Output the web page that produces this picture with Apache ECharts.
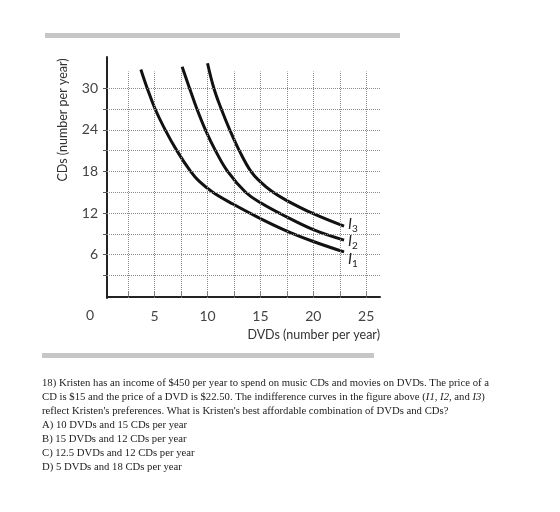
<!DOCTYPE html>
<html>
<head>
<meta charset="utf-8">
<script src="https://cdn.jsdelivr.net/npm/echarts@6/dist/echarts.min.js"></script>
<style>
html, body { margin: 0; padding: 0; background: #fff; }
#chart { width: 560px; height: 512px; }
</style>
</head>
<body>
<div id="chart"></div>
<script>
// indifference curves (DVDs, CDs)
const i1Dvd = [3.7, 4.3, 5.05, 6.0, 7.1, 8.4, 9.2, 10.5, 12.4, 15, 17.5, 20, 22.9];
const i1Cd  = [32.7, 30, 27, 24, 21, 18, 16.6, 15.0, 13.3, 11.2, 9.4, 7.9, 6.4];
const i2Dvd = [7.6, 8.3, 9.0, 9.8, 10.75, 11.9, 13.6, 15.1, 16.9, 20, 22.9];
const i2Cd  = [33.1, 30, 27, 24, 21, 18, 15, 13.4, 11.9, 9.6, 8.1];
const i3Dvd = [10.0, 10.6, 11.3, 12.1, 13.0, 14.1, 15, 16.1, 17.5, 20, 22.9];
const i3Cd  = [33.6, 30, 27, 24, 21, 18, 16.5, 15.1, 13.8, 11.9, 10.1];

// axis labels and grid
const dvdTicks = [5, 10, 15, 20, 25];
const cdTicks = [6, 12, 18, 24, 30];
const dvdGrid = [2.5, 5, 7.5, 10, 12.5, 15, 17.5, 20, 22.5, 25];
const cdGrid = [3, 6, 9, 12, 15, 18, 21, 24, 27, 30];

const questionLines = [
    "18) Kristen has an income of $450 per year to spend on music CDs and movies on DVDs. The price of a",
    "CD is $15 and the price of a DVD is $22.50. The indifference curves in the figure above ({it|I1}, {it|I2}, and {it|I3})",
    "reflect Kristen's preferences. What is Kristen's best affordable combination of DVDs and CDs?",
    "A) 10 DVDs and 15 CDs per year",
    "B) 15 DVDs and 12 CDs per year",
    "C) 12.5 DVDs and 12 CDs per year",
    "D) 5 DVDs and 18 CDs per year"
];

const X_MIN = 0.5, X_MAX = 26.3, Y_MIN = -0.25, Y_MAX = 34.5;
const sans = 'Lato';

function pairs(xs, ys) {
    return xs.map((x, k) => [x, ys[k]]);
}

function curve(name, xs, ys, sub, off) {
    return {
        name: name,
        type: 'line',
        z: 3,
        data: pairs(xs, ys),
        smooth: 0.4,
        showSymbol: false,
        silent: true,
        lineStyle: { color: '#111', width: 3 },
        endLabel: {
            show: true,
            distance: 4,
            offset: off,
            formatter: '{i|I}{s|' + sub + '}',
            rich: {
                i: { fontFamily: sans, fontStyle: 'italic', fontSize: 15, color: '#222' },
                s: { fontFamily: sans, fontSize: 10, color: '#222', padding: [9, 0, 0, 0] }
            }
        }
    };
}

// dotted grid drawn as mark lines
const gridLines = [];
cdGrid.forEach(y => gridLines.push([{ coord: [X_MIN, y] }, { coord: [X_MAX, y] }]));
dvdGrid.forEach(x => gridLines.push([{ coord: [x, Y_MIN] }, { coord: [x, 32.4] }]));

const chart = echarts.init(document.getElementById('chart'));
chart.setOption({
    animation: false,
    backgroundColor: '#fff',
    grid: { left: 107, right: 180, top: 57, bottom: 214 },
    xAxis: {
        type: 'value',
        min: X_MIN,
        max: X_MAX,
        splitLine: { show: false },
        axisLine: { lineStyle: { color: '#222', width: 2 } },
        axisTick: { show: true, inside: true, length: 5, customValues: dvdGrid, lineStyle: { color: '#777' } },
        axisLabel: { customValues: dvdTicks, margin: 11, fontFamily: sans, fontSize: 14, color: '#444' }
    },
    yAxis: {
        type: 'value',
        min: Y_MIN,
        max: Y_MAX,
        splitLine: { show: false },
        axisLine: { show: true, lineStyle: { color: '#222', width: 2 } },
        axisTick: { show: true, length: 4, customValues: cdGrid, lineStyle: { color: '#555' } },
        axisLabel: { customValues: cdTicks, margin: 9, fontFamily: sans, fontSize: 14, color: '#444' }
    },
    series: [
        {
            type: 'line',
            z: 1,
            data: [],
            silent: true,
            markLine: {
                silent: true,
                symbol: 'none',
                label: { show: false },
                lineStyle: { color: '#8a8a8a', width: 1, type: 'dotted' },
                data: gridLines
            }
        },
        curve('I1', i1Dvd, i1Cd, '1', [0, 7]),
        curve('I2', i2Dvd, i2Cd, '2', [0, 1]),
        curve('I3', i3Dvd, i3Cd, '3', [0, -2])
    ],
    graphic: [
        { type: 'rect', shape: { x: 45, y: 33, width: 355, height: 5 }, style: { fill: '#c6c6c6' } },
        { type: 'rect', shape: { x: 42, y: 353, width: 332, height: 5 }, style: { fill: '#c6c6c6' } },
        {
            type: 'text', x: 63, y: 120, rotation: Math.PI / 2,
            style: { text: 'CDs (number per year)', font: '12.5px Lato', fill: '#333', align: 'center', verticalAlign: 'middle' }
        },
        {
            type: 'text', x: 380, y: 335,
            style: { text: 'DVDs (number per year)', font: '12.5px Lato', fill: '#333', align: 'right', verticalAlign: 'middle' }
        },
        {
            type: 'text', x: 90, y: 315,
            style: { text: '0', font: '14px Lato', fill: '#444', align: 'center', verticalAlign: 'middle' }
        },
        {
            type: 'text', x: 42, y: 376,
            style: {
                text: questionLines.join('\n'),
                font: '10.7px "Liberation Serif"',
                fill: '#222',
                lineHeight: 14,
                rich: {
                    it: { fontFamily: 'Liberation Serif', fontSize: 10.7, fontStyle: 'italic', lineHeight: 14, fill: '#222' }
                }
            }
        }
    ]
});
</script>
</body>
</html>
